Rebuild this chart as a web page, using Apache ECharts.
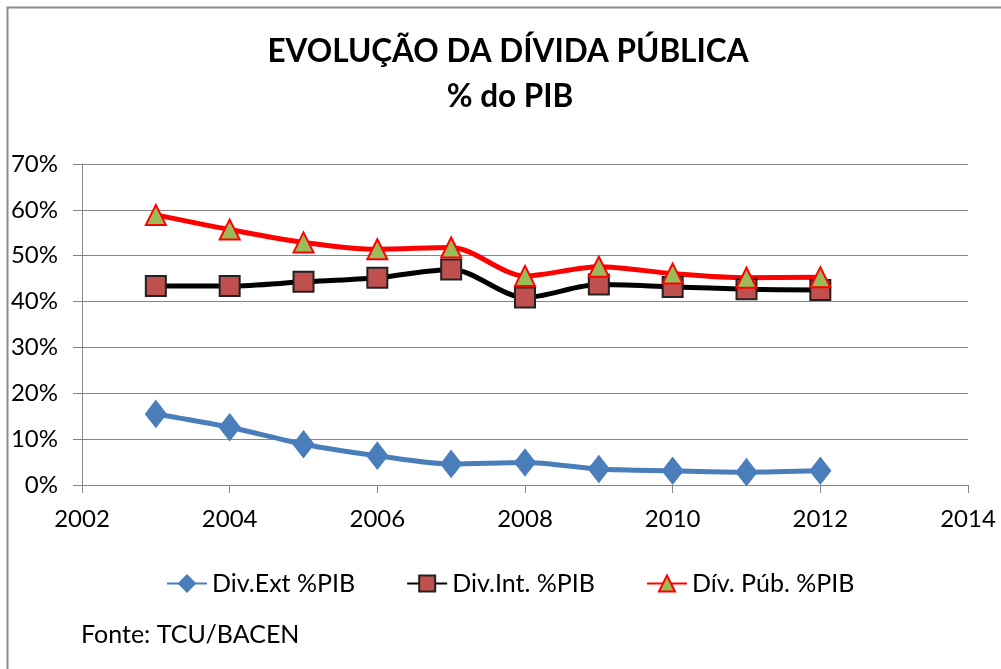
<!DOCTYPE html>
<html>
<head>
<meta charset="utf-8">
<script src="https://cdn.jsdelivr.net/npm/echarts@6/dist/echarts.min.js"></script>
<style>
  html, body { margin: 0; padding: 0; background: #fff; }
  #container { width: 1001px; height: 669px; }
</style>
</head>
<body>
<div id="container"></div>
<script>
// data (% do PIB)
var years = [2003, 2004, 2005, 2006, 2007, 2008, 2009, 2010, 2011, 2012];
var divExt = [15.5, 12.6, 8.9, 6.4, 4.6, 4.9, 3.5, 3.1, 2.8, 3.1];
var divInt = [43.4, 43.4, 44.3, 45.2, 47.0, 40.9, 43.7, 43.2, 42.7, 42.5];
var divPub = [58.9, 55.7, 52.9, 51.4, 51.8, 45.6, 47.6, 46.1, 45.2, 45.3];
var seriesNames = ["Div.Ext %PIB", "Div.Int. %PIB", "Dív. Púb. %PIB"];

function pairs(vals) {
  return years.map(function (y, i) {
    return [y, vals[i]];
  });
}

var font = "Lato, 'Open Sans', sans-serif";
var dom = document.getElementById("container");
var myChart = echarts.init(dom);
var option = null;

option = {
  animation: false,
  textStyle: { fontFamily: font },
  graphic: [
    {
      type: "rect",
      shape: { x: 7.5, y: 7.5, width: 1100, height: 800 },
      style: { fill: "none", stroke: "#8c8c8c", lineWidth: 2 },
    },
    {
      type: "text",
      x: 508,
      y: 52,
      style: {
        text: "EVOLUÇÃO DA DÍVIDA PÚBLICA",
        font: "bold 31.5px " + font,
        fill: "#000",
        align: "center",
        verticalAlign: "middle",
      },
    },
    {
      type: "text",
      x: 510,
      y: 97,
      style: {
        text: "% do PIB",
        font: "bold 31.5px " + font,
        fill: "#000",
        align: "center",
        verticalAlign: "middle",
      },
    },
    {
      type: "text",
      x: 81,
      y: 635,
      style: {
        text: "Fonte: TCU/BACEN",
        font: "25px " + font,
        fill: "#000",
        verticalAlign: "middle",
      },
    },
  ],
  legend: {
    left: 161,
    top: 566,
    itemWidth: 40,
    itemHeight: 20,
    itemGap: 51,
    textStyle: { fontSize: 25, color: "#000", fontFamily: font },
    data: seriesNames,
  },
  grid: { left: 82, right: 33, top: 164, bottom: 184 },
  xAxis: {
    type: "value",
    min: 2002,
    max: 2014,
    interval: 2,
    axisLine: { show: true, lineStyle: { color: "#868686", width: 1 } },
    axisTick: { show: true, length: 8, lineStyle: { color: "#868686" } },
    axisLabel: {
      fontSize: 24,
      color: "#000",
      margin: 22,
      fontFamily: font,
      formatter: function (v) {
        return String(v);
      },
    },
    splitLine: { show: false },
  },
  yAxis: {
    type: "value",
    min: 0,
    max: 70,
    interval: 10,
    axisLine: { show: true, lineStyle: { color: "#868686", width: 1 } },
    axisTick: { show: true, length: 9, lineStyle: { color: "#868686" } },
    axisLabel: {
      fontSize: 24,
      color: "#000",
      margin: 24,
      fontFamily: font,
      formatter: "{value}%",
    },
    splitLine: { show: true, lineStyle: { color: "#868686", width: 1 } },
  },
  series: [
    {
      name: seriesNames[0],
      type: "line",
      smooth: 0.3,
      data: pairs(divExt),
      symbol: "diamond",
      symbolSize: [21, 27],
      lineStyle: { color: "#4A7EBB", width: 5 },
      itemStyle: { color: "#4A7EBB", borderColor: "#4A7EBB", borderWidth: 1 },
    },
    {
      name: seriesNames[1],
      type: "line",
      smooth: 0.3,
      data: pairs(divInt),
      symbol: "rect",
      symbolSize: 20,
      lineStyle: { color: "#000", width: 5 },
      itemStyle: { color: "#C0504D", borderColor: "#222", borderWidth: 2 },
    },
    {
      name: seriesNames[2],
      type: "line",
      smooth: 0.3,
      data: pairs(divPub),
      symbol: "triangle",
      symbolSize: 20,
      lineStyle: { color: "#FF0000", width: 5 },
      itemStyle: { color: "#9BBB59", borderColor: "#FF0000", borderWidth: 2 },
    },
  ],
};

if (option && typeof option === "object") {
  myChart.setOption(option, true);
}
</script>
</body>
</html>
